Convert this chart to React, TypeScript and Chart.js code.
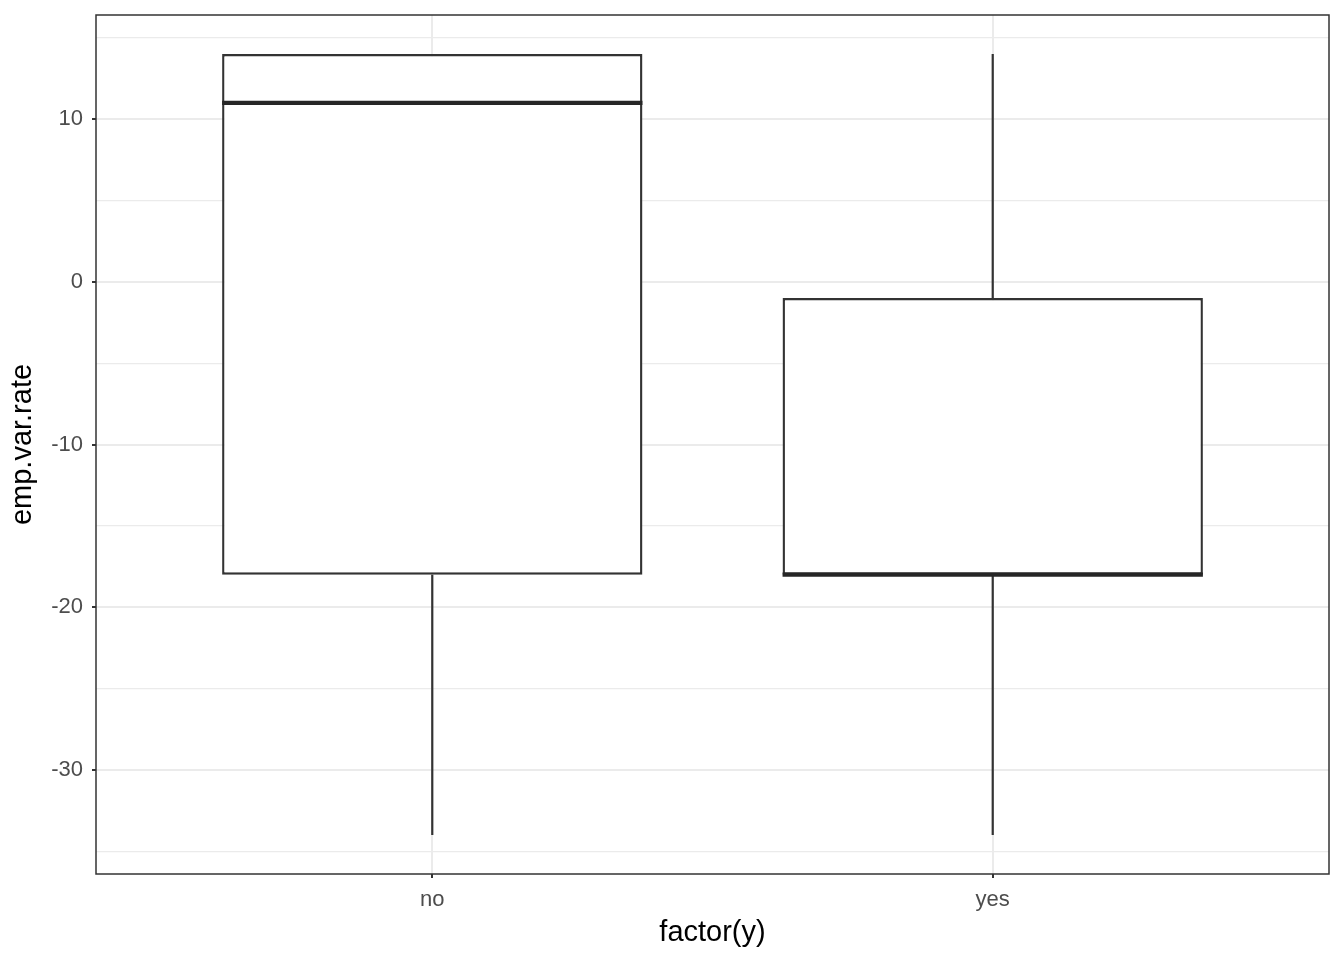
import React, { useEffect, useRef } from 'react';
import { Chart, registerables } from 'chart.js';

Chart.register(...registerables);

const categories = ['no', 'yes'];
const whiskerLow = [-34, -34];
const hingeLow = [-18, -18];
const medians = [11, -18];
const hingeHigh = [14, -1];
const whiskerHigh = [14, 14];

const yMajorTicks = [-30, -20, -10, 0, 10];
const yMinorTicks = [-35, -25, -15, -5, 5, 15];
const yLimits = [-36.4, 16.4];
const xLimits = [0.4, 2.6];

const FONT = '"Liberation Sans", Arial, Helvetica, sans-serif';
const INK = '#333333';

const boxExtras = {
  id: 'boxExtras',
  beforeDatasetsDraw(chart: any) {
    const { ctx, scales } = chart;
    const x = scales.x;
    const y = scales.y;
    ctx.save();
    ctx.strokeStyle = INK;
    ctx.lineWidth = 2.2;
    categories.forEach((_, i) => {
      const px = x.getPixelForValue(i + 1);
      ctx.beginPath();
      ctx.moveTo(px, y.getPixelForValue(whiskerLow[i]));
      ctx.lineTo(px, y.getPixelForValue(hingeLow[i]));
      ctx.moveTo(px, y.getPixelForValue(hingeHigh[i]));
      ctx.lineTo(px, y.getPixelForValue(whiskerHigh[i]));
      ctx.stroke();
    });
    ctx.restore();
  },
  afterDatasetsDraw(chart: any) {
    const { ctx, scales } = chart;
    const y = scales.y;
    const meta = chart.getDatasetMeta(0);
    ctx.save();
    ctx.strokeStyle = '#262626';
    ctx.lineWidth = 4.3;
    meta.data.forEach((bar: any, i: number) => {
      const half = bar.width / 2;
      const py = y.getPixelForValue(medians[i]);
      ctx.beginPath();
      ctx.moveTo(bar.x - half, py);
      ctx.lineTo(bar.x + half, py);
      ctx.stroke();
    });
    ctx.restore();
  },
  afterDraw(chart: any) {
    const { ctx, chartArea } = chart;
    ctx.save();
    ctx.strokeStyle = INK;
    ctx.lineWidth = 1.5;
    ctx.strokeRect(chartArea.left, chartArea.top, chartArea.right - chartArea.left, chartArea.bottom - chartArea.top);
    ctx.restore();
  },
};

export default function App() {
  const canvasRef = useRef<HTMLCanvasElement | null>(null);

  useEffect(() => {
    document.body.style.margin = '0';
    const canvas = canvasRef.current;
    if (!canvas) return;

    const chart = new Chart(canvas, {
      type: 'bar',
      data: {
        datasets: [
          {
            label: 'box',
            data: categories.map((_, i) => ({ x: i + 1, y: [hingeLow[i], hingeHigh[i]] })) as any,
            backgroundColor: '#FFFFFF',
            borderColor: INK,
            borderWidth: 2.4,
            borderSkipped: false,
            barPercentage: 0.75,
            categoryPercentage: 1,
          },
        ],
      },
      options: {
        animation: false,
        responsive: false,
        devicePixelRatio: 1,
        layout: { padding: { top: 15, right: 15, left: 0, bottom: 0 } },
        plugins: {
          legend: { display: false },
          tooltip: { enabled: false },
          title: { display: false },
        },
        scales: {
          x: {
            type: 'linear',
            min: xLimits[0],
            max: xLimits[1],
            offset: false,
            afterBuildTicks: (scale: any) => {
              scale.ticks = categories.map((_, i) => ({ value: i + 1 }));
            },
            afterFit: (scale: any) => {
              scale.height = 86;
              scale.paddingLeft = 0;
              scale.paddingRight = 0;
            },
            grid: {
              offset: false,
              color: '#EBEBEB',
              lineWidth: 2,
              tickColor: INK,
              tickWidth: 2,
              tickLength: 4,
              drawTicks: true,
            },
            border: { display: false },
            ticks: {
              autoSkip: false,
              maxRotation: 0,
              padding: 9,
              color: '#4D4D4D',
              font: { family: FONT, size: 22 },
              callback: (v: any) => categories[Math.round(Number(v)) - 1] ?? '',
            },
            title: {
              display: true,
              text: 'factor(y)',
              color: '#000000',
              font: { family: FONT, size: 29, lineHeight: 1.2 },
              padding: { top: 0, bottom: 10 },
            },
          },
          y: {
            type: 'linear',
            min: yLimits[0],
            max: yLimits[1],
            afterBuildTicks: (scale: any) => {
              scale.ticks = [...yMajorTicks, ...yMinorTicks]
                .sort((a, b) => a - b)
                .map((v) => ({ value: v }));
            },
            afterFit: (scale: any) => {
              scale.width = 96;
              scale.paddingTop = 0;
              scale.paddingBottom = 0;
            },
            grid: {
              color: '#EBEBEB',
              lineWidth: (ctx: any) => (yMajorTicks.includes(ctx.tick?.value) ? 2 : 1.2),
              tickColor: (ctx: any) => (yMajorTicks.includes(ctx.tick?.value) ? INK : 'rgba(0,0,0,0)'),
              tickWidth: 2,
              tickLength: 4,
              drawTicks: true,
            },
            border: { display: false },
            ticks: {
              autoSkip: false,
              padding: 9,
              color: '#4D4D4D',
              font: { family: FONT, size: 22 },
              callback: (v: any) => (yMajorTicks.includes(Number(v)) ? String(v) : ''),
            },
            title: {
              display: true,
              text: 'emp.var.rate',
              color: '#000000',
              font: { family: FONT, size: 29, lineHeight: 1.2 },
              padding: { top: 6, bottom: 0 },
            },
          },
        },
      },
      plugins: [boxExtras],
    });

    return () => chart.destroy();
  }, []);

  return (
    <div style={{ position: 'absolute', left: 0, top: 0, width: 1344, height: 960, background: '#FFFFFF' }}>
      <canvas ref={canvasRef} width={1344} height={960} style={{ display: 'block' }} />
    </div>
  );
}
